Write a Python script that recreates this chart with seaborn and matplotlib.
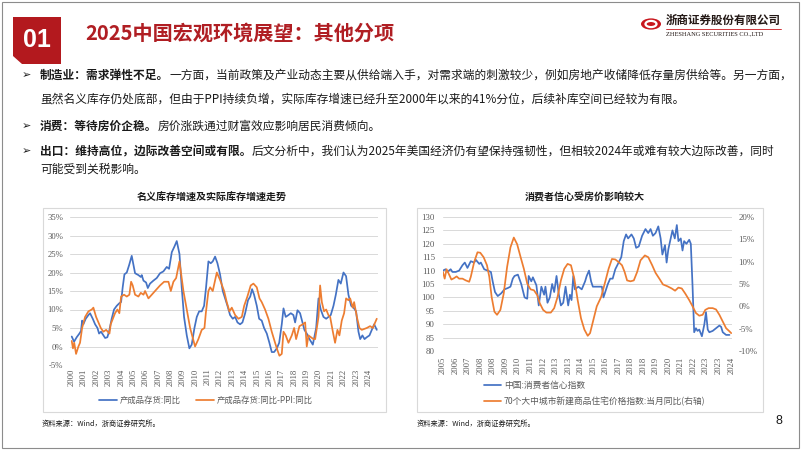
import matplotlib
matplotlib.use("Agg")
import matplotlib.pyplot as plt
import seaborn as sns
import numpy as np
from matplotlib.patches import Rectangle, Polygon, Circle
from matplotlib.lines import Line2D

# ---------------- data ----------------
inv_nom_years = [2000.00, 2000.19, 2000.40, 2000.62, 2000.75, 2000.84, 2000.94, 2001.13, 2001.35, 2001.48,
                 2001.70, 2001.89, 2002.08, 2002.21, 2002.37, 2002.56, 2002.70, 2002.88, 2003.05, 2003.23,
                 2003.42, 2003.64, 2003.85, 2003.99, 2004.12, 2004.26, 2004.45, 2004.64, 2004.85, 2004.99,
                 2005.12, 2005.39, 2005.58, 2005.66, 2005.80, 2006.01, 2006.15, 2006.33, 2006.60, 2006.87,
                 2007.14, 2007.41, 2007.68, 2007.87, 2008.09, 2008.30, 2008.49, 2008.71, 2008.89, 2009.08,
                 2009.30, 2009.51, 2009.70, 2009.92, 2010.11, 2010.30, 2010.51, 2010.70, 2010.86, 2011.05,
                 2011.24, 2011.40, 2011.59, 2011.78, 2011.99, 2012.21, 2012.40, 2012.59, 2012.80, 2013.02,
                 2013.21, 2013.40, 2013.61, 2013.80, 2014.02, 2014.25, 2014.43, 2014.58, 2014.74, 2014.96,
                 2015.15, 2015.36, 2015.55, 2015.77, 2015.98, 2016.17, 2016.36, 2016.58, 2016.77, 2016.98,
                 2017.12, 2017.30, 2017.52, 2017.71, 2017.92, 2018.06, 2018.25, 2018.46, 2018.65, 2018.81,
                 2019.00, 2019.22, 2019.49, 2019.76, 2019.95, 2020.13, 2020.35, 2020.57, 2020.75, 2020.94,
                 2021.16, 2021.35, 2021.56, 2021.75, 2021.97, 2022.18, 2022.37, 2022.59, 2022.78, 2022.99,
                 2023.18, 2023.32, 2023.50, 2023.67, 2023.85, 2024.07, 2024.26, 2024.45, 2024.66]
inv_nom_vals = [2.7, 1.3, 2.5, 3.5, 4.2, 7.0, 6.0, 7.5, 8.5, 9.0,
                7.5, 6.0, 5.0, 3.5, 4.0, 3.0, 2.3, 2.5, 4.5, 7.5,
                10.0, 11.0, 11.7, 12.0, 16.0, 19.5, 20.0, 22.0, 24.5, 22.0,
                19.8, 19.3, 18.8, 19.3, 17.8, 17.3, 15.8, 17.0, 17.8, 18.5,
                19.8, 20.3, 21.5, 21.0, 25.5, 27.0, 28.5, 25.0, 16.0, 8.0,
                3.0, -0.5, 0.5, 5.0, 8.0, 9.5, 9.5, 11.0, 16.0, 23.0,
                22.5, 23.0, 24.3, 22.5, 19.5, 15.0, 13.0, 11.0, 8.5, 7.5,
                8.0, 6.5, 6.0, 6.5, 9.0, 12.5, 13.5, 15.5, 14.0, 11.0,
                7.5, 7.0, 5.0, 3.5, 1.0, -1.5, -1.5, -0.5, 1.0, 6.0,
                10.3, 8.0, 8.5, 9.0, 8.5, 6.5, 9.8, 9.0, 6.5, 4.5,
                3.5, 2.0, 0.5, 5.0, 13.0, 10.0, 8.0, 7.5, 8.0, 8.5,
                11.0, 14.0, 18.0, 17.0, 20.0, 19.0, 14.0, 11.0, 10.5, 9.5,
                4.0, 2.0, 3.0, 2.0, 2.5, 3.0, 4.5, 6.0, 4.5]

inv_real_years = [2000.00, 2000.10, 2000.20, 2000.35, 2000.54, 2000.67, 2000.84, 2001.08, 2001.35, 2001.62,
                  2001.75, 2001.97, 2002.16, 2002.35, 2002.56, 2002.78, 2003.05, 2003.15, 2003.50, 2003.69,
                  2003.85, 2003.99, 2004.23, 2004.45, 2004.66, 2004.80, 2004.93, 2005.12, 2005.39, 2005.58,
                  2005.80, 2005.93, 2006.20, 2006.47, 2006.87, 2007.14, 2007.47, 2007.82, 2008.01, 2008.22,
                  2008.44, 2008.71, 2009.03, 2009.30, 2009.57, 2009.97, 2010.24, 2010.51, 2010.73, 2010.84,
                  2011.05, 2011.19, 2011.40, 2011.73, 2011.99, 2012.32, 2012.53, 2012.75, 2012.94, 2013.21,
                  2013.48, 2013.75, 2013.94, 2014.20, 2014.47, 2014.69, 2014.96, 2015.18, 2015.36, 2015.63,
                  2015.90, 2016.17, 2016.44, 2016.63, 2016.79, 2016.98, 2017.12, 2017.30, 2017.52, 2017.79,
                  2017.98, 2018.14, 2018.41, 2018.68, 2018.87, 2019.00, 2019.14, 2019.54, 2019.68, 2019.95,
                  2020.08, 2020.22, 2020.40, 2020.57, 2020.75, 2020.89, 2021.11, 2021.29, 2021.48, 2021.64,
                  2021.83, 2022.02, 2022.18, 2022.37, 2022.51, 2022.72, 2022.83, 2023.05, 2023.26, 2023.45,
                  2023.85, 2024.12, 2024.34, 2024.53, 2024.66]
inv_real_vals = [1.5, -0.5, 1.0, -2.0, 0.0, 1.0, 5.0, 8.0, 9.5, 10.0,
                 10.5, 8.0, 6.5, 5.0, 4.0, 4.5, 3.5, 6.0, 9.0, 10.0,
                 9.0, 13.5, 14.0, 13.5, 14.0, 17.5, 16.5, 14.0, 13.5, 14.5,
                 14.0, 15.0, 13.0, 14.0, 15.5, 16.5, 17.5, 17.5, 15.0, 17.5,
                 18.5, 23.0, 15.0, 10.0, 5.0, 0.0, 2.0, 4.5, 5.0, 9.0,
                 15.0, 16.0, 15.0, 20.0, 18.0, 15.0, 12.0, 9.5, 10.5, 8.5,
                 7.5, 8.0, 11.0, 13.5, 16.5, 17.0, 16.0, 13.0, 12.0, 10.0,
                 7.5, 4.0, 1.0, -1.0, -2.5, -2.0, 4.0, 3.0, 1.0, 3.0,
                 5.0, 2.0, 5.5, 6.0, 6.5, 0.0, 3.0, 2.0, 2.0, 8.0,
                 16.5, 12.0, 9.5, 10.0, 8.5, 8.0, 4.0, 1.0, 4.5, 3.0,
                 7.0, 9.0, 13.0, 12.5, 13.0, 10.5, 12.0, 8.0, 5.0, 4.5,
                 5.0, 5.5, 5.0, 6.5, 7.5]
left_years = [str(y) for y in range(2000, 2025)]

conf_years = [2005.00, 2005.18, 2005.30, 2005.53, 2005.65, 2005.88, 2006.11, 2006.34, 2006.50, 2006.68,
              2006.91, 2007.14, 2007.26, 2007.49, 2007.60, 2007.83, 2008.06, 2008.29, 2008.41, 2008.57,
              2008.76, 2008.99, 2009.22, 2009.45, 2009.63, 2009.79, 2009.91, 2010.14, 2010.37, 2010.60,
              2010.78, 2010.88, 2011.06, 2011.17, 2011.41, 2011.57, 2011.75, 2011.94, 2012.03, 2012.17,
              2012.33, 2012.49, 2012.63, 2012.79, 2012.95, 2013.09, 2013.25, 2013.41, 2013.59, 2013.71,
              2013.82, 2013.94, 2014.05, 2014.29, 2014.52, 2014.75, 2014.86, 2015.02, 2015.16, 2015.28,
              2015.44, 2015.67, 2015.90, 2016.01, 2016.13, 2016.31, 2016.47, 2016.64, 2016.82, 2017.05,
              2017.23, 2017.40, 2017.56, 2017.70, 2017.93, 2018.09, 2018.25, 2018.43, 2018.66, 2018.89,
              2019.08, 2019.24, 2019.40, 2019.58, 2019.77, 2019.93, 2020.05, 2020.23, 2020.34, 2020.46,
              2020.62, 2020.74, 2020.90, 2021.04, 2021.15, 2021.31, 2021.43, 2021.54, 2021.70, 2021.89,
              2022.00, 2022.12, 2022.23, 2022.35, 2022.46, 2022.58, 2022.76, 2022.93, 2023.04, 2023.16,
              2023.27, 2023.50, 2023.73, 2023.96, 2024.08, 2024.19, 2024.42, 2024.65]
conf_vals = [110.0, 110.5, 109.5, 110.5, 109.5, 109.5, 110.0, 112.0, 113.0, 111.0,
             113.5, 113.0, 114.0, 112.5, 113.0, 110.5, 110.0, 109.5, 106.0, 102.0,
             100.5, 101.5, 103.0, 103.5, 104.0, 107.0, 108.0, 108.5, 105.0, 100.0,
             99.5, 108.0, 106.0, 107.5, 104.5, 97.0, 104.0, 101.0, 104.0, 98.0,
             100.0, 105.0, 102.0, 108.0, 101.0, 97.0, 98.0, 104.0, 97.0, 101.0,
             99.0, 108.0, 103.0, 104.0, 103.0, 106.0, 108.0, 110.0, 106.0, 104.0,
             104.0, 104.0, 104.0, 100.0, 102.0, 105.0, 107.0, 107.0, 110.5, 113.0,
             115.0, 121.0, 123.5, 122.0, 123.5, 122.0, 118.5, 119.0, 123.0, 125.5,
             124.0, 125.5, 123.0, 124.0, 126.5, 122.0, 116.0, 119.5, 113.0, 118.0,
             122.0, 125.0, 122.0, 127.0, 121.0, 122.0, 117.5, 121.0, 120.0, 121.5,
             120.0, 104.0, 87.0, 88.5, 87.5, 88.0, 85.5, 90.0, 94.5, 88.0,
             87.0, 87.5, 88.5, 89.5, 89.0, 87.0, 86.0, 86.0]

house_years = [2005.00, 2005.12, 2005.25, 2005.41, 2005.58, 2005.76, 2005.94, 2006.11, 2006.34, 2006.57,
               2006.80, 2006.91, 2007.14, 2007.37, 2007.56, 2007.79, 2008.02, 2008.18, 2008.34, 2008.53,
               2008.71, 2008.94, 2009.17, 2009.40, 2009.63, 2009.86, 2010.09, 2010.32, 2010.55, 2010.78,
               2011.01, 2011.24, 2011.47, 2011.64, 2011.87, 2012.10, 2012.40, 2012.63, 2012.86, 2013.09,
               2013.32, 2013.55, 2013.78, 2014.01, 2014.24, 2014.47, 2014.70, 2014.93, 2015.09, 2015.32,
               2015.55, 2015.85, 2016.13, 2016.36, 2016.59, 2016.82, 2017.05, 2017.28, 2017.46, 2017.63,
               2017.86, 2018.09, 2018.32, 2018.55, 2018.85, 2019.08, 2019.35, 2019.58, 2019.86, 2020.09,
               2020.39, 2020.69, 2020.92, 2021.15, 2021.38, 2021.61, 2021.89, 2022.12, 2022.35, 2022.58,
               2022.81, 2022.99, 2023.22, 2023.50, 2023.73, 2023.96, 2024.19, 2024.42, 2024.65, 2024.77]
house_vals = [7.7, 6.2, 8.3, 7.2, 6.0, 6.3, 6.7, 6.2, 6.2, 5.8,
              5.5, 6.6, 9.9, 12.1, 12.0, 11.0, 9.2, 6.6, 2.1, -1.2,
              -1.9, -0.8, 2.9, 8.8, 13.2, 15.4, 13.9, 11.1, 8.4, 5.1,
              3.8, 3.6, 2.5, 0.7, -0.8, -1.4, -1.4, -0.4, 2.1, 5.8,
              8.4, 9.5, 9.2, 6.2, 1.4, -2.7, -5.2, -6.6, -6.0, -3.0,
              0.0, 2.1, 5.5, 8.4, 10.6, 10.5, 9.9, 9.2, 7.7, 5.8,
              5.6, 5.8, 7.7, 10.3, 11.4, 11.0, 9.2, 7.5, 6.1, 4.9,
              4.5, 4.0, 3.5, 4.2, 4.0, 2.9, 1.4, 0.0, -1.5, -2.1,
              -1.9, -0.8, -0.4, -0.4, -0.7, -1.9, -3.4, -4.9, -5.6, -6.0]
right_xlabels = ["2005", "2006", "2007", "2008", "2008", "2009", "2010", "2011", "2012", "2013",
                 "2013", "2014", "2015", "2016", "2017", "2018", "2018", "2019", "2020",
                 "2021", "2022", "2023", "2023", "2024"]

# ---------------- style ----------------
sns.set_theme(style="white")
CJK = ["Noto Sans CJK SC", "DejaVu Sans"]
SERIF = ["Liberation Serif", "DejaVu Serif"]
plt.rcParams["font.family"] = CJK
plt.rcParams["axes.unicode_minus"] = False

BLUE = "#4472C4"
ORANGE = "#ED7D31"
RED = "#b01e23"
GRID = "#d9d9d9"
TICK = "#595959"

W, H = 802, 451
fig = plt.figure(figsize=(W / 100, H / 100), dpi=100)
fig.patch.set_facecolor("white")


def fx(x):
    return x / W


def fy(y):
    return 1 - y / H


# slide frame
fig.add_artist(Rectangle((fx(1.5), fy(448)), (799 - 1.5) / W, (448 - 1.5) / H,
                         transform=fig.transFigure, fill=False, ec="#8c8c8c", lw=0.8))

# red number block
fig.add_artist(Polygon([(fx(13), fy(17)), (fx(61), fy(17)), (fx(61), fy(64)), (fx(22), fy(64)), (fx(13), fy(56))],
                       closed=True, transform=fig.transFigure, fc="#b3191e", ec="none"))
fig.text(fx(37), fy(40), "01", color="white", fontsize=18, fontweight="bold",
         family=["Liberation Sans", "DejaVu Sans"], ha="center", va="center")

# title
fig.text(fx(85), fy(33), "2025中国宏观环境展望：其他分项", color=RED, fontsize=14.5,
         fontweight="bold", ha="left", va="center")

# logo
fig.add_artist(Circle((fx(651), fy(24)), 10 / W, transform=fig.transFigure, fc="#c8161d", ec="none"))
fig.add_artist(Circle((fx(651), fy(24)), 5.5 / W, transform=fig.transFigure, fc="none", ec="white", lw=1.6))
fig.text(fx(666), fy(20), "浙商证券股份有限公司", fontsize=8.3, fontweight="bold", color="#231815",
         ha="left", va="center")
fig.add_artist(Line2D([fx(666), fx(781)], [fy(28.5), fy(28.5)], transform=fig.transFigure,
                      color="#c8161d", lw=0.6))
fig.text(fx(666), fy(34), "ZHESHANG SECURITIES CO.,LTD", fontsize=4.6, color="#231815",
         family=SERIF, ha="left", va="center")

# body text
renderer = fig.canvas.get_renderer()


def rich(x, y, parts, size=8.45):
    for txt, bold in parts:
        t = fig.text(fx(x), fy(y), txt, fontsize=size, fontweight="bold" if bold else "normal",
                     color="#1a1a1a", ha="left", va="center")
        x += t.get_window_extent(renderer=renderer).width


lines = [
    (75, True, [("制造业：需求弹性不足。", True),
                ("一方面，当前政策及产业动态主要从供给端入手，对需求端的刺激较少，例如房地产收储降低存量房供给等。另一方面，", False)]),
    (99, False, [("虽然名义库存仍处底部，但由于PPI持续负增，实际库存增速已经升至2000年以来的41%分位，后续补库空间已经较为有限。", False)]),
    (126, True, [("消费：等待房价企稳。", True), ("房价涨跌通过财富效应影响居民消费倾向。", False)]),
    (151, True, [("出口：维持高位，边际改善空间或有限。", True),
                 ("后文分析中，我们认为2025年美国经济仍有望保持强韧性，但相较2024年或难有较大边际改善，同时", False)]),
    (169, False, [("可能受到关税影响。", False)]),
]
for y, bullet, parts in lines:
    if bullet:
        fig.text(fx(22), fy(y), "➢", fontsize=8, family=["DejaVu Sans"], color="#1a1a1a",
                 ha="left", va="center")
    rich(40, y, parts)

# chart frames
for (x0, x1) in [(42.5, 386), (416.5, 763)]:
    fig.add_artist(Rectangle((fx(x0), fy(412)), (x1 - x0) / W, (412 - 207.5) / H,
                             transform=fig.transFigure, fill=False, ec=GRID, lw=0.8))

fig.text(fx(212), fy(198), "名义库存增速及实际库存增速走势", fontsize=7.2, fontweight="bold",
         ha="center", va="center", color="#1a1a1a")
fig.text(fx(585), fy(198), "消费者信心受房价影响较大", fontsize=7.2, fontweight="bold",
         ha="center", va="center", color="#1a1a1a")


def style_axis(ax):
    for s in ax.spines.values():
        s.set_visible(False)
    ax.set_xlabel("")
    ax.set_ylabel("")
    ax.set_facecolor("none")


TICKFONT = dict(fontfamily=SERIF, color=TICK)

# ---------------- left chart ----------------
axL = fig.add_axes([fx(70), fy(365), (378 - 70) / W, (365 - 217) / H])
sns.lineplot(x=inv_nom_years, y=inv_nom_vals, ax=axL, color=BLUE, lw=1.25, label="产成品存货:同比")
sns.lineplot(x=inv_real_years, y=inv_real_vals, ax=axL, color=ORANGE, lw=1.25, label="产成品存货:同比-PPI:同比")
hL, lL = axL.get_legend_handles_labels()
axL.get_legend().remove()
axL.tick_params(axis="y", length=0, labelsize=6.2, pad=5)
axL.tick_params(axis="x", length=0, labelsize=6.2, pad=2.5)
axL.set_ylim(-5, 35)
axL.set_yticks(list(range(-5, 36, 5)))
axL.set_yticklabels([f"{v}%" for v in range(-5, 36, 5)], fontsize=6.2, **TICKFONT)
axL.set_xlim(1999.86, 2024.76)
axL.set_xticks(list(range(2000, 2025)))
axL.set_xticklabels(left_years, rotation=90, fontsize=6.2, **TICKFONT)
axL.grid(axis="y", color=GRID, lw=0.7)
axL.grid(axis="x", visible=False)
style_axis(axL)

fig.legend(hL, lL, loc="center", bbox_to_anchor=(fx(206), fy(400.5)), ncol=2, frameon=False,
           fontsize=6, handlelength=2.1, handletextpad=0.4, columnspacing=1.8, labelcolor=TICK)

# ---------------- right chart ----------------
axR = fig.add_axes([fx(442.5), fy(351), (731.5 - 442.5) / W, (351 - 217) / H])
axR2 = axR.twinx()
sns.lineplot(x=conf_years, y=conf_vals, ax=axR, color=BLUE, lw=1.25, label="中国:消费者信心指数")
sns.lineplot(x=house_years, y=house_vals, ax=axR2, color=ORANGE, lw=1.25,
             label="70个大中城市新建商品住宅价格指数:当月同比(右轴)")
h1, l1 = axR.get_legend_handles_labels()
h2, l2 = axR2.get_legend_handles_labels()
axR.get_legend().remove()
axR2.get_legend().remove()
axR.tick_params(axis="y", length=0, labelsize=6.3, pad=5.5)
axR2.tick_params(axis="y", length=0, labelsize=6.3, pad=5)
axR.tick_params(axis="x", length=0, labelsize=6.2, pad=4)
axR.set_ylim(80, 130)
axR.set_yticks(list(range(80, 131, 5)))
axR.set_yticklabels([str(v) for v in range(80, 131, 5)], fontsize=6.3, **TICKFONT)
axR2.set_ylim(-10, 20)
axR2.set_yticks(list(range(-10, 21, 5)))
axR2.set_yticklabels([f"{v}%" for v in range(-10, 21, 5)], fontsize=6.3, **TICKFONT)
axR.set_xlim(2004.97, 2024.79)
axR.set_xticks(list(np.linspace(2005.0, 2024.77, len(right_xlabels))))
axR.set_xticklabels(right_xlabels, rotation=90, fontsize=6.2, **TICKFONT)
axR.grid(axis="y", color=GRID, lw=0.7)
axR.grid(axis="x", visible=False)
axR2.grid(False)
style_axis(axR)
style_axis(axR2)

fig.legend(h1 + h2, l1 + l2, loc="center left", bbox_to_anchor=(fx(476), fy(394)), ncol=1,
           frameon=False, fontsize=6.3, handlelength=2.0, handletextpad=0.3, labelspacing=0.75,
           labelcolor=TICK)

# sources & page number
fig.text(fx(42), fy(424), "资料来源：Wind，浙商证券研究所。", fontsize=5.2, color="#1a1a1a",
         ha="left", va="center")
fig.text(fx(417), fy(424), "资料来源：Wind，浙商证券研究所。", fontsize=5.2, color="#1a1a1a",
         ha="left", va="center")
fig.text(fx(779), fy(421), "8", fontsize=9, color="#1a1a1a", family=["Liberation Sans", "DejaVu Sans"],
         ha="center", va="center")

fig.savefig("out.png", dpi=100, facecolor="white")
